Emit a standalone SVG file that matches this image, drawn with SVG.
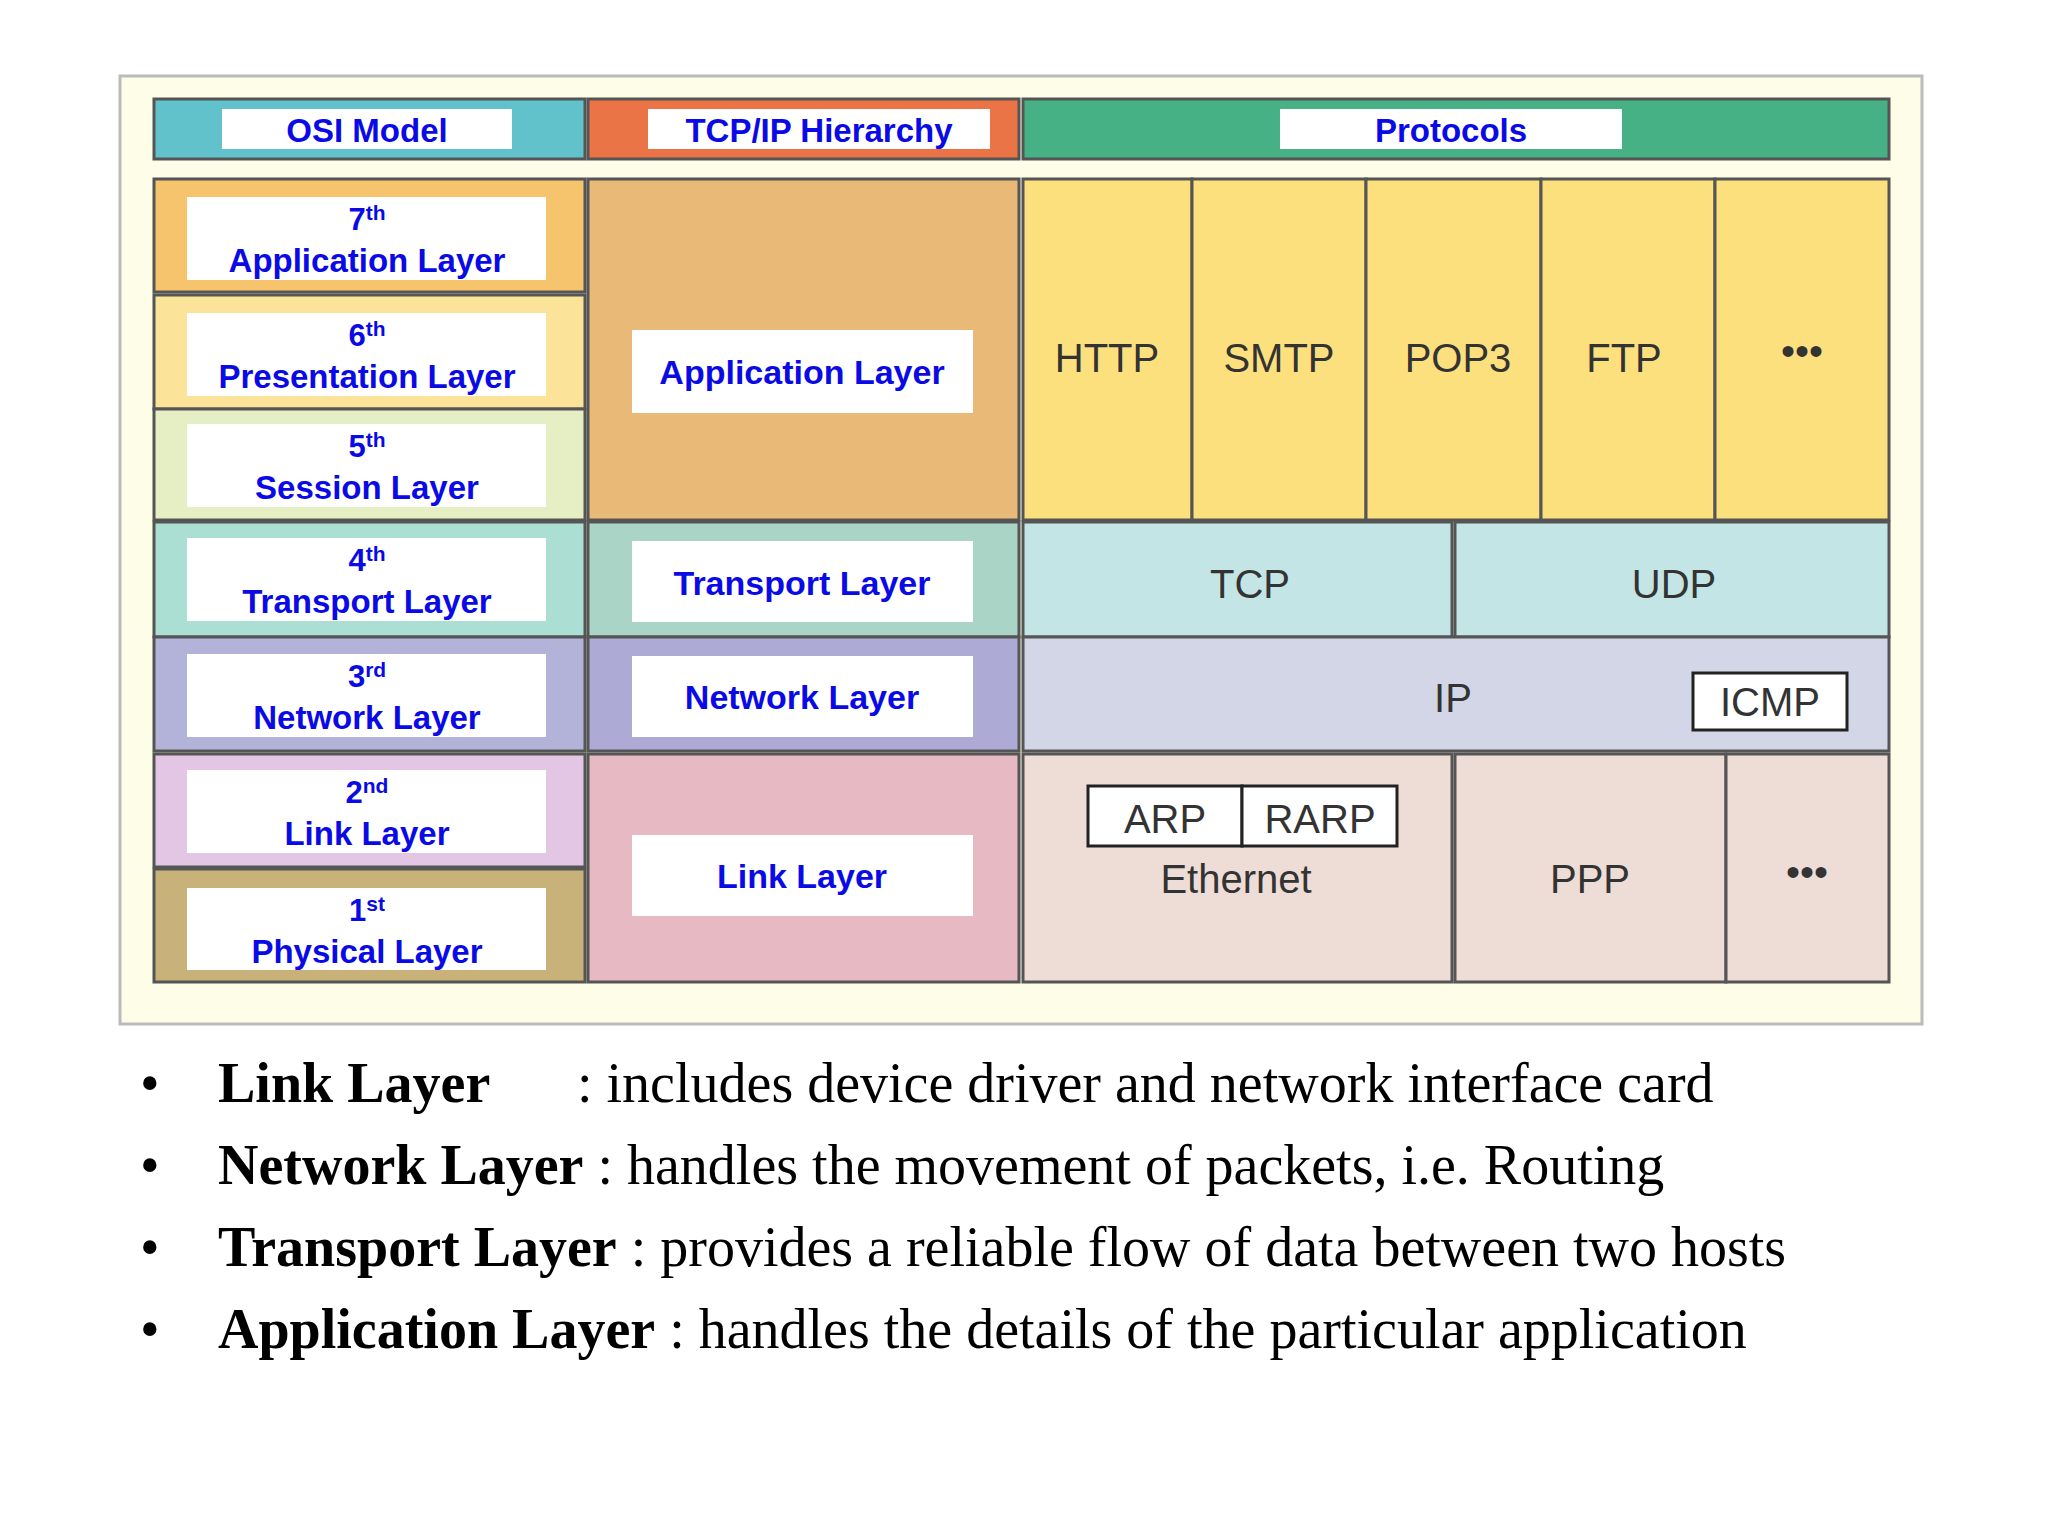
<svg xmlns="http://www.w3.org/2000/svg" width="2048" height="1536" viewBox="0 0 2048 1536">
<style>
.lb{font-family:"Liberation Sans",Arial,sans-serif;font-weight:bold;fill:#0a0ae6;text-anchor:middle}
.pr{font-family:"Liberation Sans",Arial,sans-serif;fill:#333;font-size:40px;text-anchor:middle}
.cell{stroke:#555;stroke-width:3}
.wb{fill:#fff}
.bt{font-family:"Liberation Serif","Times New Roman",serif;font-size:56px;fill:#000}
</style>
<rect width="2048" height="1536" fill="#fff"/>
<rect x="120" y="76" width="1802" height="948" fill="#fdfde8" stroke="#bbb" stroke-width="3"/>
<g id="headers">
<rect class="cell" x="154" y="99" width="431" height="60" fill="#62c2cc"/>
<rect class="wb" x="222" y="109" width="290" height="40"/>
<text class="lb" x="367" y="142" font-size="33">OSI Model</text>
<rect class="cell" x="588" y="99" width="431" height="60" fill="#ea7446"/>
<rect class="wb" x="648" y="109" width="342" height="40"/>
<text class="lb" x="819" y="142" font-size="33">TCP/IP Hierarchy</text>
<rect class="cell" x="1023" y="99" width="866" height="60" fill="#46b184"/>
<rect class="wb" x="1280" y="109" width="342" height="40"/>
<text class="lb" x="1451" y="142" font-size="33">Protocols</text>
</g>
<g id="osi">
<rect class="cell" x="154" y="179" width="431" height="113" fill="#f5c46c"/>
<rect class="wb" x="187" y="197" width="359" height="83"/>
<text class="lb" x="367" y="230" font-size="31">7<tspan font-size="21" dy="-10">th</tspan></text>
<text class="lb" x="367" y="272" font-size="33">Application Layer</text>
<rect class="cell" x="154" y="295" width="431" height="114" fill="#fce39a"/>
<rect class="wb" x="187" y="313" width="359" height="83"/>
<text class="lb" x="367" y="346" font-size="31">6<tspan font-size="21" dy="-10">th</tspan></text>
<text class="lb" x="367" y="388" font-size="33">Presentation Layer</text>
<rect class="cell" x="154" y="409" width="431" height="111" fill="#e6efc4"/>
<rect class="wb" x="187" y="424" width="359" height="83"/>
<text class="lb" x="367" y="457" font-size="31">5<tspan font-size="21" dy="-10">th</tspan></text>
<text class="lb" x="367" y="499" font-size="33">Session Layer</text>
<rect class="cell" x="154" y="522" width="431" height="115" fill="#acdfd3"/>
<rect class="wb" x="187" y="538" width="359" height="83"/>
<text class="lb" x="367" y="571" font-size="31">4<tspan font-size="21" dy="-10">th</tspan></text>
<text class="lb" x="367" y="613" font-size="33">Transport Layer</text>
<rect class="cell" x="154" y="637" width="431" height="114" fill="#b3b3da"/>
<rect class="wb" x="187" y="654" width="359" height="83"/>
<text class="lb" x="367" y="687" font-size="31">3<tspan font-size="21" dy="-10">rd</tspan></text>
<text class="lb" x="367" y="729" font-size="33">Network Layer</text>
<rect class="cell" x="154" y="754" width="431" height="113" fill="#e3c6e3"/>
<rect class="wb" x="187" y="770" width="359" height="83"/>
<text class="lb" x="367" y="803" font-size="31">2<tspan font-size="21" dy="-10">nd</tspan></text>
<text class="lb" x="367" y="845" font-size="33">Link Layer</text>
<rect class="cell" x="154" y="869" width="431" height="113" fill="#c8b27a"/>
<rect class="wb" x="187" y="888" width="359" height="82"/>
<text class="lb" x="367" y="921" font-size="31">1<tspan font-size="21" dy="-10">st</tspan></text>
<text class="lb" x="367" y="963" font-size="33">Physical Layer</text>
</g>
<g id="tcpip">
<rect class="cell" x="588" y="179" width="431" height="341" fill="#e9b977"/>
<rect class="wb" x="632" y="330" width="341" height="83"/>
<text class="lb" x="802" y="384" font-size="34">Application Layer</text>
<rect class="cell" x="588" y="522" width="431" height="115" fill="#a9d4c6"/>
<rect class="wb" x="632" y="541" width="341" height="81"/>
<text class="lb" x="802" y="595" font-size="34">Transport Layer</text>
<rect class="cell" x="588" y="637" width="431" height="114" fill="#aeaad6"/>
<rect class="wb" x="632" y="656" width="341" height="81"/>
<text class="lb" x="802" y="709" font-size="34">Network Layer</text>
<rect class="cell" x="588" y="754" width="431" height="228" fill="#e6b9c3"/>
<rect class="wb" x="632" y="835" width="341" height="81"/>
<text class="lb" x="802" y="888" font-size="34">Link Layer</text>
</g>
<g id="protocols">
<rect class="cell" x="1023" y="179" width="169" height="341" fill="#fde07e"/>
<text class="pr" x="1107" y="372">HTTP</text>
<rect class="cell" x="1192" y="179" width="174" height="341" fill="#fde07e"/>
<text class="pr" x="1279" y="372">SMTP</text>
<rect class="cell" x="1366" y="179" width="175" height="341" fill="#fde07e"/>
<text class="pr" x="1458" y="372">POP3</text>
<rect class="cell" x="1541" y="179" width="174" height="341" fill="#fde07e"/>
<text class="pr" x="1624" y="372">FTP</text>
<rect class="cell" x="1715" y="179" width="174" height="341" fill="#fde07e"/>
<text class="pr" x="1802" y="365">•••</text>
<rect class="cell" x="1023" y="522" width="429" height="115" fill="#c3e5e6"/>
<text class="pr" x="1250" y="598">TCP</text>
<rect class="cell" x="1455" y="522" width="434" height="115" fill="#c3e5e6"/>
<text class="pr" x="1674" y="598">UDP</text>
<rect class="cell" x="1023" y="637" width="866" height="114" fill="#d3d6e6"/>
<text class="pr" x="1453" y="712">IP</text>
<rect x="1693" y="673" width="154" height="57" fill="#fff" stroke="#222" stroke-width="3"/>
<text class="pr" x="1770" y="716">ICMP</text>
<rect class="cell" x="1023" y="754" width="429" height="228" fill="#eeddd6"/>
<rect x="1088" y="786" width="154" height="60" fill="#fff" stroke="#222" stroke-width="3"/>
<rect x="1242" y="786" width="155" height="60" fill="#fff" stroke="#222" stroke-width="3"/>
<text class="pr" x="1165" y="833">ARP</text>
<text class="pr" x="1320" y="833">RARP</text>
<text class="pr" x="1236" y="893">Ethernet</text>
<rect class="cell" x="1455" y="754" width="271" height="228" fill="#eeddd6"/>
<text class="pr" x="1590" y="893">PPP</text>
<rect class="cell" x="1726" y="754" width="163" height="228" fill="#eeddd6"/>
<text class="pr" x="1807" y="886">•••</text>
</g>
<g id="bullets">
<text class="bt" x="140" y="1102">•</text>
<text class="bt" x="218" y="1102"><tspan font-weight="bold">Link Layer</tspan></text>
<text class="bt" x="577" y="1102">: includes device driver and network interface card</text>
<text class="bt" x="140" y="1184">•</text>
<text class="bt" x="218" y="1184"><tspan font-weight="bold">Network Layer</tspan> : handles the movement of packets, i.e. Routing</text>
<text class="bt" x="140" y="1266">•</text>
<text class="bt" x="218" y="1266"><tspan font-weight="bold">Transport Layer</tspan> : provides a reliable flow of data between two hosts</text>
<text class="bt" x="140" y="1348">•</text>
<text class="bt" x="218" y="1348"><tspan font-weight="bold">Application Layer</tspan> : handles the details of the particular application</text>
</g>
</svg>
